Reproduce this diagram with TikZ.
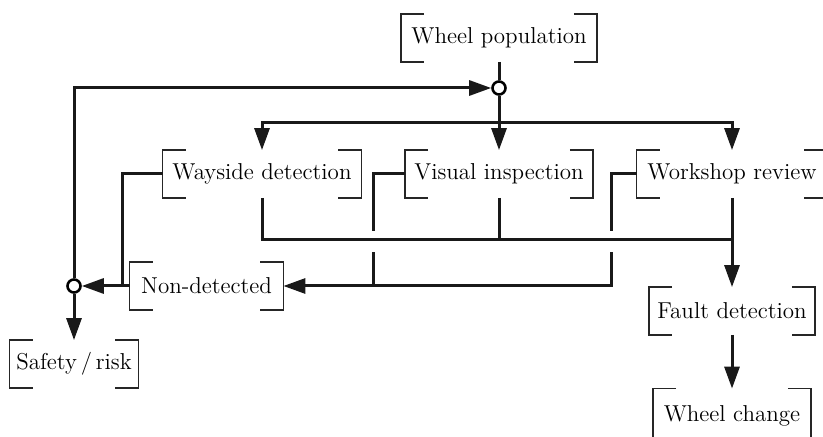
\documentclass[tikz,border=0pt]{standalone}
\usetikzlibrary{arrows.meta,calc}

\tikzset{
  box/.style={minimum height=23.5pt, inner sep=0pt, font=\fontsize{11.5}{13}\selectfont},
  bracket/.style={line width=0.7pt, black!85},
  conn/.style={line width=1.5pt, black!90},
  arr/.style={conn, -{Triangle[length=11pt,width=7.5pt]}},
  junction/.style={circle, draw, line width=1.3pt, fill=white, minimum size=6.5pt, inner sep=0pt},
  gap/.style={fill=white, draw=none}
}

% square brackets on the left and right sides of a box
\newcommand\bracketsof[1]{%
  \draw[bracket] ([xshift=11.5pt]#1.north west) -- (#1.north west) -- (#1.south west) -- ([xshift=11.5pt]#1.south west);
  \draw[bracket] ([xshift=-11.5pt]#1.north east) -- (#1.north east) -- (#1.south east) -- ([xshift=-11.5pt]#1.south east);}

\begin{document}
\begin{tikzpicture}[x=0.5pt, y=-0.5pt]
\useasboundingbox (0,0) rectangle (823,437);

% boxes
\node[box, minimum width=97.5pt] (wp) at (499,38)  {Wheel population};
\node[box, minimum width=99pt]   (wd) at (262,174) {Wayside detection};
\node[box, minimum width=93.5pt] (vi) at (499,174) {Visual inspection};
\node[box, minimum width=95pt]   (wr) at (732,174) {Workshop review};
\node[box, minimum width=76.5pt] (nd) at (206.5,286) {Non-detected};
\node[box, minimum width=64pt]   (sr) at (74,364)  {Safety\,/\,risk};
\node[box, minimum width=82.5pt] (fd) at (732,311) {Fault detection};
\node[box, minimum width=78.5pt, minimum height=27pt] (wc) at (732,416) {Wheel change};
\foreach \n in {wp,wd,vi,wr,nd,sr,fd,wc} {\bracketsof{\n}}

% junctions
\node[junction] (jt) at (499,88) {};
\node[junction] (jl) at (74,286) {};

% bends and bus points
\coordinate (b1) at (499,123);
\coordinate (b2) at (732,240);
\coordinate (k1) at (122,286);
\coordinate (k2) at (373,286);
\coordinate (k3) at (611,286);

% non-detected feedback paths
\draw[conn] (wd.west) -| (k1);
\draw[conn] (wr.west) -| (k3) -- (k2);
\draw[arr] (vi.west) -| (k2) -- (nd.east);
\draw[arr] (nd.west) -- (jl);

% breaks where the feedback lines pass under the lower bus
\fill[gap] ($(k2|-b2)+(-4,-9)$) rectangle ($(k2|-b2)+(4,12)$);
\fill[gap] ($(k3|-b2)+(-4,-9)$) rectangle ($(k3|-b2)+(4,12)$);

% population into the three inspections
\draw[conn] (wp.south) -- (jt);
\draw[conn] (jt) -- (b1);
\draw[arr] (b1) -| (wd.north);
\draw[arr] (b1) -- (vi.north);
\draw[arr] (b1) -| (wr.north);

% detections to fault detection
\draw[conn] (wd.south) |- (b2);
\draw[conn] (vi.south) -- (vi.south |- b2);
\draw[conn] (wr.south) -- (b2);
\draw[arr] (b2) -- (fd.north);
\draw[arr] (fd.south) -- (wc.north);

% return loop and risk outcome
\draw[arr] (jl) |- (jt);
\draw[arr] (jl) -- (sr.north);
\end{tikzpicture}
\end{document}
